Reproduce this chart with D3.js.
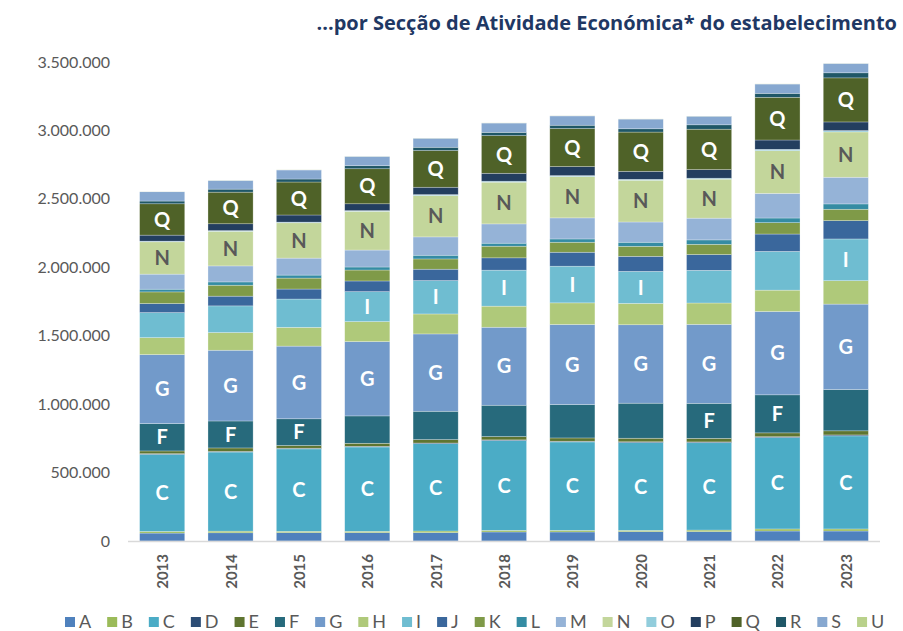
<!DOCTYPE html>
<html>
<head>
<meta charset="utf-8">
<script src="https://cdn.jsdelivr.net/npm/d3@7"></script>
<style>
  body { margin: 0; background: #fff; }
  svg { display: block; font-family: Lato, "Open Sans", sans-serif; }
</style>
</head>
<body>
<svg id="chart" width="903" height="631"></svg>
<script>
// years on the x axis
const years = ["2013", "2014", "2015", "2016", "2017", "2018", "2019", "2020", "2021", "2022", "2023"];

// workers per section (approximate)
const A = [58000, 60000, 61000, 61000, 61000, 66000, 66000, 68000, 68000, 73000, 73000];
const B = [12000, 12000, 10000, 10000, 12000, 12000, 12000, 10000, 12000, 15000, 15000];
const C = [563000, 578000, 602000, 616000, 638000, 656000, 646000, 641000, 638000, 668000, 680000];
const D = [5000, 5000, 5000, 5000, 5000, 5000, 5000, 6000, 6000, 6000, 7000];
const E = [20000, 25000, 20000, 22000, 25000, 24000, 24000, 26000, 26000, 28000, 30000];
const F = [200000, 197000, 195000, 200000, 207000, 229000, 244000, 256000, 256000, 278000, 302000];
const G = [504000, 517000, 531000, 543000, 565000, 570000, 585000, 573000, 577000, 609000, 624000];
const H = [124000, 129000, 137000, 146000, 146000, 154000, 158000, 156000, 156000, 156000, 171000];
const I = [183000, 195000, 207000, 219000, 244000, 263000, 268000, 234000, 239000, 283000, 305000];
const J = [66000, 71000, 73000, 78000, 83000, 90000, 102000, 110000, 115000, 127000, 134000];
const K = [85000, 80000, 80000, 80000, 75000, 85000, 73000, 73000, 75000, 83000, 83000];
const L = [20000, 24000, 22000, 22000, 27000, 22000, 24000, 30000, 32000, 34000, 39000];
const M = [110000, 117000, 124000, 124000, 134000, 141000, 154000, 148000, 159000, 180000, 195000];
const N = [236000, 253000, 258000, 283000, 302000, 305000, 302000, 305000, 285000, 312000, 331000];
const O = [5000, 5000, 5000, 5000, 7000, 7000, 7000, 7000, 7000, 10000, 10000];
const P = [44000, 50000, 52000, 50000, 54000, 58000, 66000, 58000, 63000, 68000, 63000];
const Q = [229000, 231000, 241000, 256000, 268000, 275000, 278000, 287000, 295000, 312000, 322000];
const R = [20000, 22000, 22000, 22000, 24000, 24000, 24000, 24000, 32000, 29000, 37000];
const S = [68000, 63000, 66000, 68000, 66000, 68000, 68000, 71000, 63000, 68000, 68000];
const U = [1000, 1000, 1000, 1000, 1000, 1000, 1000, 1000, 1000, 1000, 1000];

const sections = ["A", "B", "C", "D", "E", "F", "G", "H", "I", "J", "K", "L", "M", "N", "O", "P", "Q", "R", "S", "U"];
const values = { A, B, C, D, E, F, G, H, I, J, K, L, M, N, O, P, Q, R, S, U };

const colors = ["#4F81BD", "#9BBB59", "#4BACC6", "#2C4D75", "#5F7530", "#276A7C", "#729ACA", "#AFC97A", "#6FBDD1", "#3A679C",
                "#7F9A48", "#358CA3", "#95B3D7", "#C3D69B", "#92CDDC", "#233E5F", "#4F6228", "#1F5767", "#87A8D0", "#B9D18B"];

// which segments carry a letter label
const alwaysLabelled = ["C", "G", "N", "Q"];
const labelF = ["2013", "2014", "2015", "2021", "2022"];
const labelI = ["2016", "2017", "2018", "2019", "2020", "2023"];

const yTicks = [0, 500000, 1000000, 1500000, 2000000, 2500000, 3000000, 3500000];

const svg = d3.select("#chart");
const margin = { left: 128, right: 23, top: 62, bottom: 90 };
const width = 903, height = 631;

const rows = years.map((y, i) => {
  const r = { year: y };
  sections.forEach(s => r[s] = values[s][i]);
  return r;
});

const stack = d3.stack().keys(sections)(rows);

const x = d3.scaleBand().domain(years).range([margin.left, width - margin.right]).paddingInner(0.34).paddingOuter(0.17);
const y = d3.scaleLinear().domain([0, 3500000]).range([height - margin.bottom, margin.top]);
const color = d3.scaleOrdinal().domain(sections).range(colors);

// title
svg.append("text")
  .attr("x", 897).attr("y", 30)
  .attr("text-anchor", "end")
  .attr("font-family", "'Open Sans', sans-serif")
  .attr("font-weight", "bold")
  .attr("font-size", 20)
  .attr("fill", "#1F3864")
  .text("...por Secção de Atividade Económica* do estabelecimento");

// y axis
const fmt = v => d3.format(",")(v).replace(/,/g, ".");
const yAxis = svg.append("g")
  .attr("transform", `translate(${margin.left - 18},0)`)
  .call(d3.axisLeft(y).tickValues(yTicks).tickFormat(fmt).tickSize(0).tickPadding(0));
yAxis.select(".domain").remove();
yAxis.selectAll("text").attr("font-size", 16).attr("fill", "#595959").attr("font-family", "Lato");

// bars
const layers = svg.append("g").selectAll("g")
  .data(stack)
  .join("g")
  .attr("fill", d => color(d.key));

layers.selectAll("rect")
  .data(d => d)
  .join("rect")
  .attr("x", d => x(d.data.year))
  .attr("width", x.bandwidth())
  .attr("y", d => y(d[1]))
  .attr("height", d => y(d[0]) - y(d[1]))
  .attr("stroke", "#ffffff")
  .attr("stroke-opacity", 0.45)
  .attr("stroke-width", 0.6);

// segment labels
function hasLabel(key, year) {
  if (alwaysLabelled.includes(key)) return true;
  if (key === "F") return labelF.includes(year);
  if (key === "I") return labelI.includes(year);
  return false;
}

stack.forEach(layer => {
  layer.forEach(d => {
    if (!hasLabel(layer.key, d.data.year)) return;
    svg.append("text")
      .attr("x", x(d.data.year) + x.bandwidth() / 2)
      .attr("y", (y(d[0]) + y(d[1])) / 2)
      .attr("dy", "0.36em")
      .attr("text-anchor", "middle")
      .attr("font-weight", "bold")
      .attr("font-size", 20)
      .attr("fill", layer.key === "N" ? "#595959" : "#ffffff")
      .text(layer.key);
  });
});

// x axis line
svg.append("line")
  .attr("x1", margin.left).attr("x2", width - margin.right)
  .attr("y1", y(0) + 0.5).attr("y2", y(0) + 0.5)
  .attr("stroke", "#D9D9D9").attr("stroke-width", 1.5);

// year labels, rotated
svg.append("g").selectAll("text")
  .data(years)
  .join("text")
  .attr("transform", d => `translate(${x(d) + x.bandwidth() / 2 + 6},${y(0) + 13}) rotate(-90)`)
  .attr("text-anchor", "end")
  .attr("font-weight", "bold")
  .attr("font-size", 15)
  .attr("fill", "#595959")
  .text(d => d);

// legend
const legend = svg.append("g").attr("transform", "translate(65,622)");
let lx = 0;
sections.forEach(s => {
  const item = legend.append("g").attr("transform", `translate(${lx},0)`);
  item.append("rect").attr("x", 0).attr("y", -5).attr("width", 10).attr("height", 10).attr("fill", color(s));
  const t = item.append("text")
    .attr("x", 14).attr("y", 0).attr("dy", "0.36em")
    .attr("font-size", 18).attr("fill", "#595959")
    .text(s);
  lx += 14 + t.node().getComputedTextLength() + 16;
});
</script>
</body>
</html>
